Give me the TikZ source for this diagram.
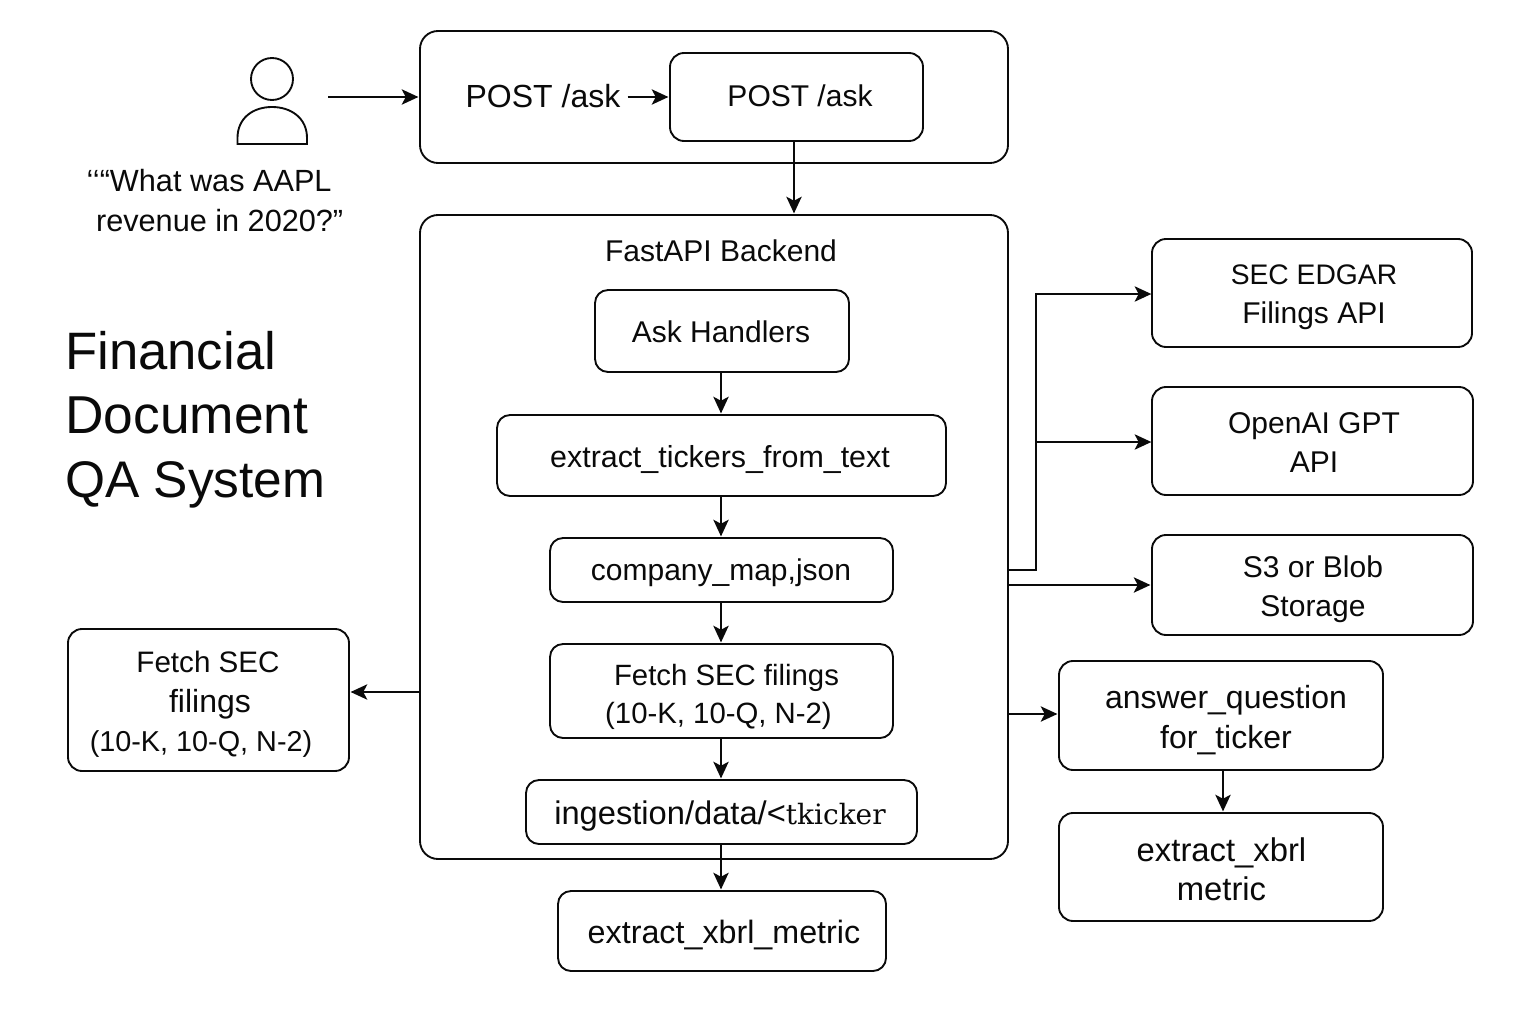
\documentclass[tikz,border=0pt]{standalone}
\usepackage{fontspec}
\setmainfont{Liberation Sans}
\newfontfamily\tkfont{DejaVu Serif}
\usetikzlibrary{arrows.meta}
\newcommand{\bx}[7][]{\node[box,rounded corners=#7*0.75pt,minimum width={(#4-#2)*0.75pt},minimum height={(#5-#3)*0.75pt},#1] (#6) at ({(#2+#4)/2},{(#3+#5)/2}) {\phantom{}};}
\newcommand{\tx}[4]{\node[lbl] (#1) at (#2,#3) {#4};}
\newcommand{\fs}[1]{\fontsize{#1pt}{29.5pt}\selectfont}
\newcommand{\ts}[1]{\fontsize{#1pt}{48pt}\selectfont}
\tikzset{
 x=0.75pt,y=-0.75pt,
 box/.style={draw=ink,line width=1.4pt,fill=white,inner sep=0pt,align=center},
 lbl/.style={inner sep=0pt,align=center,text=ink,font=\fontsize{22.5pt}{29.5pt}\selectfont},
 conn/.style={draw=ink,line width=1.4pt,shorten >=0.5pt,-{Stealth[length=12.5pt,width=11.5pt,inset=3pt]}},
 wire/.style={draw=ink,line width=1.4pt},
}
\definecolor{ink}{HTML}{0A0A0A}
\begin{document}
\begin{tikzpicture}
\useasboundingbox (0,0) rectangle (1536,1024);
\fill[white] (0,0) rectangle (1536,1024);
% user icon
\draw[wire] (272,79) circle[radius=21];
\draw[wire] (237.5,144) -- (237.5,138) .. controls (237.5,118) and (253,107) .. (272,107) .. controls (291,107) and (307,118) .. (307,138) -- (307,144) -- cycle;
\coordinate (usr) at (328,97);
% boxes
\bx{420}{31}{1008}{163}{outer}{18}
\bx{670}{53}{923}{141}{inner}{14}
\bx{420}{215}{1008}{859}{backend}{18}
\bx{595}{290}{849}{372}{ask}{13}
\bx{497}{415}{946}{496}{tick}{13}
\bx{550}{538}{893}{602}{cmap}{13}
\bx{550}{644}{893}{738}{fetch}{13}
\bx{526}{780}{917}{844}{ingest}{13}
\bx{558}{891}{886}{971}{xbrl}{13}
\bx{1152}{239}{1472}{347}{sec}{14}
\bx{1152}{387}{1473}{495}{openai}{14}
\bx{1152}{535}{1473}{635}{sss}{14}
\bx{1059}{661}{1383}{770}{answer}{14}
\bx{1059}{813}{1383}{921}{metric}{14}
\bx{68}{629}{349}{771}{lfetch}{14}
% texts
\node[lbl,font=\fontsize{23pt}{30pt}\selectfont,align=left] (quest) at (215,201) {‘‘“What was AAPL\\\hspace*{7pt}revenue in 2020?”};
\node[lbl,font=\ts{39.5},align=left,anchor=west] (title) at (65,420) {Financial\\{\ts{40}Document}\\{\ts{38.6}QA System}};
\node[lbl,font=\fontsize{24pt}{29pt}\selectfont] (postA) at (543,96) {POST /ask};
\tx{postB}{800}{96}{POST /ask}
\tx{fast}{721}{251}{FastAPI Backend}
\tx{askT}{721}{332}{Ask Handlers}
\node[lbl,font=\fontsize{22.8pt}{29pt}\selectfont] (tickT) at (720,460) {extract\_tickers\_from\_text};
\tx{cmapT}{721}{573}{company\_map,json}
\node[lbl,font=\fontsize{22pt}{29pt}\selectfont] (fetchT) at (718.5,697) {\hspace*{12pt}Fetch SEC filings\\(10-K, 10-Q, N-2)};
\node[lbl,font=\fontsize{24.5pt}{29pt}\selectfont] (ingT) at (720,816) {ingestion/data/<{\tkfont\fontsize{21pt}{29pt}\selectfont tkicker}};
\node[lbl,font=\fontsize{24.2pt}{29pt}\selectfont] (xbrlT) at (724,935) {extract\_xbrl\_metric};
\tx{secT}{1314}{297}{{\fs{21.2}SEC EDGAR}\\Filings API}
\tx{oaT}{1314}{442.5}{OpenAI GPT\\API}
\tx{sssT}{1313}{589.5}{S3 or Blob\\Storage}
\node[lbl,font=\fontsize{24pt}{30pt}\selectfont] (ansT) at (1226,720) {answer\_question\\for\_ticker};
\node[lbl,font=\fontsize{24.6pt}{29.5pt}\selectfont] (metT) at (1221.5,869) {extract\_xbrl\\metric};
\node[lbl] (lfT) at (201,704.5) {\hspace*{10.5pt}{\fs{22.2}Fetch SEC}\\\hspace*{13.5pt}{\fs{24}filings}\\{\fs{21.6}(10-K, 10-Q, N-2)}};
% connectors
\draw[conn] (usr) -- (outer.west |- usr);
\draw[conn] (postA.east |- inner.west) ++(7,0) -- (inner.west);
\coordinate (c1) at (794,141);
\draw[conn] (c1) -- (c1 |- backend.north);
\draw[conn] (ask.south -| 721,0) -- (tick.north -| 721,0);
\draw[conn] (tick.south -| 721,0) -- (cmap.north -| 721,0);
\draw[conn] (cmap.south -| 721,0) -- (fetch.north -| 721,0);
\draw[conn] (fetch.south -| 721,0) -- (ingest.north -| 721,0);
\draw[conn] (ingest.south -| 721,0) -- (xbrl.north -| 721,0);
\coordinate (b1) at (1008,570);
\coordinate (j1) at (1036,570);
\coordinate (s1) at (1152,294);
\coordinate (s2) at (1152,442);
\draw[conn] (b1) -- (j1) -- (j1 |- s1) -- (s1);
\draw[conn] (j1 |- s2) -- (s2);
\coordinate (b2) at (1008,585);
\draw[conn] (b2) -- (b2 -| sss.west);
\coordinate (b4) at (1008,714);
\draw[conn] (b4) -- (b4 -| answer.west);
\coordinate (b3) at (420,692);
\draw[conn] (b3) -- (b3 -| lfetch.east);
\coordinate (a1) at (1223,770);
\draw[conn] (a1) -- (a1 |- metric.north);
\end{tikzpicture}
\end{document}
